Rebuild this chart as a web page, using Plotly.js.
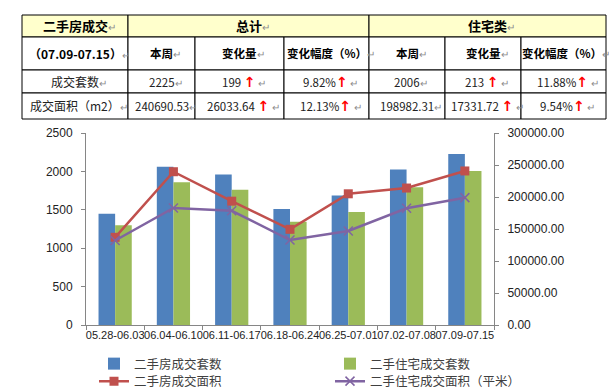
<!DOCTYPE html>
<html>
<head>
<meta charset="utf-8">
<script src="https://cdn.plot.ly/plotly-3.0.1.min.js"></script>
<style>html,body{margin:0;padding:0;background:#fff;}#chart{width:609px;height:390px;}</style>
</head>
<body>
<div id="chart"></div>
<script>
// ---- chart data ----
const categories = ['05.28-06.03','06.04-06.10','06.11-06.17','06.18-06.24','06.25-07.01','07.02-07.08','07.09-07.15'];
const unitsAll = [1450, 2060, 1960, 1510, 1685, 2025, 2225];
const unitsResidential = [1300, 1860, 1760, 1345, 1470, 1795, 2006];
const areaAll = [137000, 239500, 193500, 149500, 205000, 214000, 240690.53];
const areaResidential = [132000, 182800, 178500, 132800, 147000, 182300, 198982.31];
const seriesNames = ['二手房成交套数', '二手住宅成交套数', '二手房成交面积', '二手住宅成交面积（平米）'];

// ---- table data ----
const groupHeaders = ['二手房成交', '总计', '住宅类'];
const rowLabels = ['（07.09-07.15）', '成交套数', '成交面积（m2）'];
const totalWeek = ['本周', '2225', '240690.53'];
const totalChange = ['变化量', '199', '26033.64'];
const totalPct = ['变化幅度（%）', '9.82%', '12.13%'];
const resWeek = ['本周', '2006', '198982.31'];
const resChange = ['变化量', '213', '17331.72'];
const resPct = ['变化幅度（%）', '11.88%', '9.54%'];
const tableCols = [rowLabels, totalWeek, totalChange, totalPct, resWeek, resChange, resPct];
const upCols = [2, 3, 5, 6];          // columns whose values rose (red arrow)
const upSpace = [true, false, true, false];

// ---- layout constants ----
const W = 609, H = 390;
const colWidths = [106, 67, 89, 85, 76, 76, 85];
const rowHeights = [22, 33, 23, 26];
const groupSpans = [[0, 1], [1, 4], [4, 7]];
const tableLeft = 22, tableTop = 15;
const yellow = '#FFFFCC';
const CJK = 'Noto Sans CJK SC, sans-serif';
const mark = '<span style="color:#8c8c8c;font-size:10px">↵</span>';
const arrow = '<span style="color:#ff0000;font-family:DejaVu Sans;font-size:14px"><b>↑</b></span>';

const px = x => x / W, py = y => 1 - y / H;
const colX = [tableLeft];
colWidths.forEach(w => colX.push(colX[colX.length - 1] + w));
const rowY = [tableTop];
rowHeights.forEach(h => rowY.push(rowY[rowY.length - 1] + h));

const shapes = [];
const annotations = [];
function cell(c0, c1, r, fill, text, font, shift) {
  shapes.push({type: 'rect', xref: 'paper', yref: 'paper', layer: 'above',
    x0: px(colX[c0]), x1: px(colX[c1]), y0: py(rowY[r + 1]), y1: py(rowY[r]),
    fillcolor: fill, line: {color: '#000', width: 1}});
  annotations.push({xref: 'paper', yref: 'paper', showarrow: false,
    x: px((colX[c0] + colX[c1]) / 2), y: py((rowY[r] + rowY[r + 1]) / 2),
    xanchor: 'center', yanchor: 'middle', xshift: shift, text: text, font: font});
}
groupHeaders.forEach((t, i) => cell(groupSpans[i][0], groupSpans[i][1], 0, yellow,
  '<b>' + t + '</b>' + mark, {family: CJK, size: 13, color: '#000'}, 4));
tableCols.forEach((col, c) => {
  col.forEach((v, r) => {
    let text, font;
    if (r === 0) {
      text = '<b>' + v + '</b>' + mark;
      font = {family: CJK, size: c === 0 ? 12 : 11.5, color: '#000'};
    } else {
      const k = upCols.indexOf(c);
      text = v + (k >= 0 ? (upSpace[k] ? ' ' : '') + arrow + ' ' : '') + mark;
      font = {family: CJK, size: c === 0 ? 12 : 11.5, color: '#222'};
    }
    cell(c, c + 1, r + 1, '#ffffff', text, font, (r === 0 && c === 6) ? 2 : 4);
  });
});

const traces = [
  {type: 'bar', name: seriesNames[0], x: categories, y: unitsAll, marker: {color: '#4F81BD'}, yaxis: 'y', legend: 'legend'},
  {type: 'bar', name: seriesNames[1], x: categories, y: unitsResidential, marker: {color: '#9BBB59'}, yaxis: 'y', legend: 'legend'},
  {type: 'scatter', mode: 'lines+markers', name: seriesNames[2], x: categories, y: areaAll, yaxis: 'y2', legend: 'legend2',
   line: {color: '#C0504D', width: 2.5}, marker: {symbol: 'square', size: 9, color: '#C0504D'}},
  {type: 'scatter', mode: 'lines+markers', name: seriesNames[3], x: categories, y: areaResidential, yaxis: 'y2', legend: 'legend2',
   line: {color: '#8064A2', width: 2.5}, marker: {symbol: 'x-thin-open', size: 9, line: {color: '#8064A2', width: 1.5}}}
];

const axisCol = '#868686';
const tickFont = {family: 'Liberation Sans, Arial, sans-serif', size: 12, color: '#222'};
const legendBase = {
  orientation: 'h', x: px(94), xanchor: 'left', yanchor: 'middle',
  entrywidth: 191, entrywidthmode: 'pixels', traceorder: 'normal', borderwidth: 0,
  font: {family: CJK, size: 12.5, color: '#404040'}, bgcolor: 'rgba(0,0,0,0)'
};
const layout = {
  width: W, height: H,
  margin: {l: 0, r: 0, t: 0, b: 0, autoexpand: false},
  paper_bgcolor: '#fff', plot_bgcolor: '#fff',
  showlegend: true,
  barmode: 'group', bargap: 0.43, bargroupgap: 0,
  shapes: shapes,
  annotations: annotations,
  xaxis: {
    domain: [px(86), px(494)], type: 'category', showgrid: false, showline: true, linecolor: axisCol,
    ticks: 'outside', tickson: 'boundaries', ticklen: 4, tickcolor: axisCol,
    tickfont: {family: 'Liberation Sans, Arial, sans-serif', size: 11, color: '#222'}, tickangle: 0, anchor: 'y'
  },
  yaxis: {
    domain: [py(325), py(133)], range: [0, 2500], dtick: 500, showgrid: false, zeroline: false,
    showline: true, linecolor: axisCol, ticks: 'outside', ticklen: 4, tickcolor: axisCol,
    tickfont: tickFont, ticklabelstandoff: 6, anchor: 'x'
  },
  yaxis2: {
    overlaying: 'y', side: 'right', range: [0, 300000], dtick: 50000, tickformat: '.2f',
    showgrid: false, zeroline: false, showline: true, linecolor: axisCol, ticks: 'outside', ticklen: 4,
    tickcolor: axisCol, tickfont: tickFont, ticklabelstandoff: 6, anchor: 'x'
  },
  legend: Object.assign({}, legendBase, {y: py(364)}),
  legend2: Object.assign({}, legendBase, {y: py(381.5)})
};

Plotly.newPlot('chart', traces, layout, {displayModeBar: false, staticPlot: true});
</script>
</body>
</html>
